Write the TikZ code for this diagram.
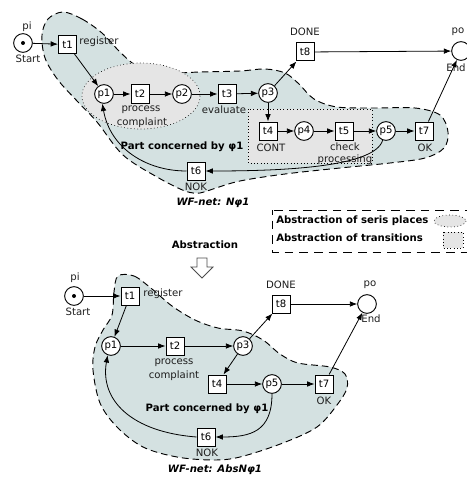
\documentclass[tikz,border=0pt]{standalone}
\usepackage{fontspec}
\setmainfont{DejaVu Sans}
\usetikzlibrary{arrows.meta}
\definecolor{regionfill}{RGB}{212,225,225}
\definecolor{groupfill}{RGB}{229,229,229}
\definecolor{inkgray}{RGB}{30,30,30}
\newcommand\labelsize{\fontsize{7.6}{9}\selectfont}
\tikzset{
  place/.style={circle,draw,fill=white,line width=0.7pt,minimum size=14pt,inner sep=0pt,font=\labelsize},
  trans/.style={rectangle,draw,fill=white,line width=0.75pt,minimum size=13.5pt,inner sep=0pt,font=\labelsize},
  arc/.style={-{Latex[length=5.5pt,width=4.2pt]},line width=0.6pt},
  lbl/.style={inner sep=0pt,font=\labelsize,text=inkgray},
  blbl/.style={inner sep=0pt,font=\labelsize\bfseries},
  region/.style={fill=regionfill,draw,dash pattern=on 5pt off 3pt,line width=0.7pt},
  group/.style={fill=groupfill,draw,dotted,line width=0.5pt},
  token/.style={circle,fill,inner sep=0pt,minimum size=3pt}
}
\begin{document}
\begin{tikzpicture}[x=0.75pt,y=-0.75pt]
\useasboundingbox (0,0) rectangle (467,478);

% ---------- original net ----------
\draw[region] plot[smooth cycle,tension=0.55] coordinates {
  (63,12) (82,19) (102,33) (120,52) (137,66) (162,73) (200,72) (240,71)
  (265,69) (285,73) (299,84) (314,99) (337,107) (375,108) (415,108)
  (440,115) (448,132) (444,148) (425,158) (390,163) (340,168) (285,174)
  (240,181) (213,189) (200,193) (185,191) (157,177) (123,155) (97,122)
  (78,102) (58,80) (45,58) (42,35) (48,19)};
\draw[group] (141,96) ellipse [x radius=59,y radius=33];
\draw[group] (248,109) rectangle (372,163);

\node[place] (pi) at (23,43) {};
\node[token] (pitok) at (pi) {};
\node[trans] (t1) at (67.5,44.5) {t1};
\node[place] (p1) at (104,94) {p1};
\node[trans] (t2) at (140,94) {t2};
\node[place] (p2) at (182,94) {p2};
\node[trans] (t3) at (227,94) {t3};
\node[place] (p3) at (268,93) {p3};
\node[trans] (t8) at (305,52) {t8};
\node[place] (po) at (461,51) {};
\node[trans] (t4) at (268,131) {t4};
\node[place] (p4) at (304,131) {p4};
\node[trans] (t5) at (344,131) {t5};
\node[place] (p5) at (386,131) {p5};
\node[trans] (t7) at (424,131) {t7};
\node[trans] (t6) at (196,171) {t6};

\node[lbl] (lpi) at (27,27) {pi};
\node[lbl] (lstart) at (28,59) {Start};
\node[lbl] (lreg) at (99,42) {register};
\node[lbl] (lproc) at (141,110) {process};
\node[lbl] (lcompl) at (142,123) {complaint};
\node[lbl] (leval) at (224,110) {evaluate};
\node[lbl] (ldone) at (305,32) {DONE};
\node[lbl] (lpo) at (458,32) {po};
\node[lbl] (lend) at (456,68) {End};
\node[lbl] (lcont) at (271,148) {CONT};
\node[lbl] (lcheck) at (345,147) {check};
\node[lbl] (lprocing) at (345,160) {processing};
\node[lbl] (lok) at (425,148) {OK};
\node[lbl] (lnok) at (196,187) {NOK};
\node[blbl] (lpart) at (182,147) {Part concerned by φ1};
\node[blbl] (lnet) at (213,203) {\itshape WF-net: Nφ1};

\draw[arc] (pi) -- (t1);
\draw[arc] (t1) -- (p1);
\draw[arc] (p1) -- (t2);
\draw[arc] (t2) -- (p2);
\draw[arc] (p2) -- (t3);
\draw[arc] (t3) -- (p3);
\draw[arc] (p3) -- (t8);
\draw[arc] (t8) -- (po);
\draw[arc] (p3) -- (t4);
\draw[arc] (t4) -- (p4);
\draw[arc] (p4) -- (t5);
\draw[arc] (t5) -- (p5);
\draw[arc] (p5) -- (t7);
\draw[arc] (t7) -- (po);
\draw[arc] (p5.-110) .. controls +(-8,28) and +(70,0) .. (t6.east);
\draw[arc] (t6.west) .. controls +(-40,0) and +(8,45) .. (p1.-100);

% ---------- legend ----------
\draw[dash pattern=on 6.5pt off 4.5pt,dash phase=3pt,line width=0.7pt] (272,210) rectangle (490,252);
\node[blbl,anchor=west] (legplaces) at (276,221) {Abstraction of seris places};
\node[blbl,anchor=west] (legtrans) at (276,238) {Abstraction of transitions};
\draw[group] (450,221) ellipse [x radius=16,y radius=6];
\draw[group] (443,232) rectangle (463,248);

% ---------- abstraction step ----------
\node[blbl] (labs) at (205,245) {Abstraction};
\draw[fill=white,draw=black!70,line width=0.6pt]
  (197,258) -- (207,258) -- (207,267) -- (213,267) -- (202,278)
  -- (191,267) -- (197,267) -- cycle;

% ---------- abstracted net ----------
\draw[region] plot[smooth cycle,tension=0.55] coordinates {
  (118,276) (134,276) (152,289) (172,306) (195,320) (218,328) (243,331)
  (263,340) (280,354) (298,363) (330,367) (345,374) (347,388) (337,405)
  (317,427) (283,443) (240,457) (213,460) (177,457) (143,447) (117,427)
  (100,403) (93,370) (95,347) (103,330) (112,315) (114,292)};

\node[place] (bpi) at (74,296) {};
\node[token] (bpitok) at (bpi) {};
\node[trans] (bt1) at (130,296) {t1};
\node[place] (bp1) at (111,346) {p1};
\node[trans] (bt2) at (175,346) {t2};
\node[place] (bp3) at (243,346) {p3};
\node[trans] (bt8) at (281,304) {t8};
\node[place] (bpo) at (367,304) {};
\node[trans] (bt4) at (217,384) {t4};
\node[place] (bp5) at (272,384) {p5};
\node[trans] (bt7) at (324,384) {t7};
\node[trans] (bt6) at (206,437) {t6};

\node[lbl] (blpi) at (75,278) {pi};
\node[lbl] (blstart) at (78,312) {Start};
\node[lbl] (blreg) at (163,294) {register};
\node[lbl] (blproc) at (174,363) {process};
\node[lbl] (blcompl) at (174,376) {complaint};
\node[lbl] (bldone) at (281,285) {DONE};
\node[lbl] (blpo) at (370,285) {po};
\node[lbl] (blend) at (371,319) {End};
\node[lbl] (blok) at (324,401) {OK};
\node[lbl] (blnok) at (207,453) {NOK};
\node[blbl] (blpart) at (207,409) {Part concerned by φ1};
\node[blbl] (blnet) at (215,470) {\itshape WF-net: AbsNφ1};

\draw[arc] (bpi) -- (bt1);
\draw[arc] (bt1) -- (bp1);
\draw[arc] (bp1) -- (bt2);
\draw[arc] (bt2) -- (bp3);
\draw[arc] (bp3) -- (bt8);
\draw[arc] (bt8) -- (bpo);
\draw[arc] (bp3) -- (bt4);
\draw[arc] (bt4) -- (bp5);
\draw[arc] (bp5) -- (bt7);
\draw[arc] (bt7) -- (bpo);
\draw[arc] (bp5.south) .. controls +(0,38) and +(35,0) .. (bt6.east);
\draw[arc] (bt6.west) .. controls +(-65,-5) and +(-8,45) .. (bp1.-110);
\end{tikzpicture}
\end{document}
